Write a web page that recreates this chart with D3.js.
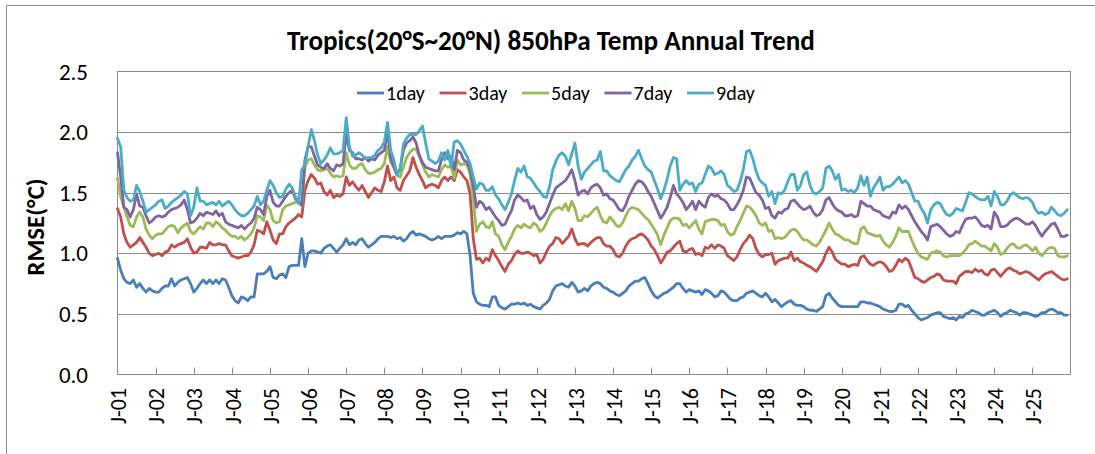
<!DOCTYPE html>
<html><head><meta charset="utf-8">
<script src="https://cdn.jsdelivr.net/npm/d3@7"></script>
<style>
html,body{margin:0;padding:0;background:#fff;}
svg{display:block;}
text{font-family:Carlito,Lato,"Open Sans",sans-serif;fill:#000;}
</style></head>
<body><svg id="c" width="1095" height="454"></svg>
<script>
const titleText = "Tropics(20°S~20°N) 850hPa Temp Annual Trend";
const yTitle = "RMSE(°C)";
const seriesNames = ["1day","3day","5day","7day","9day"];
const seriesColors = ["#4A7EBB","#C0504D","#9BBB59","#8064A2","#4BACC6"];
const tickLabels = ["J-01","J-02","J-03","J-04","J-05","J-06","J-07","J-08","J-09","J-10","J-11","J-12","J-13","J-14","J-15","J-16","J-17","J-18","J-19","J-20","J-21","J-22","J-23","J-24","J-25"];
const yTicks = [0,0.5,1.0,1.5,2.0,2.5];

const day1 = [
0.96,0.86,0.79,0.76,0.75,0.78,0.72,0.75,0.71,0.68,0.71,0.69,
0.68,0.68,0.71,0.73,0.73,0.79,0.73,0.76,0.78,0.79,0.80,0.75,
0.68,0.71,0.75,0.78,0.75,0.78,0.75,0.78,0.75,0.79,0.78,0.72,
0.65,0.61,0.59,0.64,0.63,0.61,0.64,0.64,0.83,0.83,0.83,0.85,
0.89,0.80,0.79,0.82,0.83,0.80,0.89,0.90,0.90,0.90,1.12,0.89,
1.00,1.02,1.02,1.01,1.00,1.04,1.06,1.07,1.04,1.01,1.04,1.07,
1.12,1.07,1.09,1.07,1.11,1.12,1.08,1.05,1.07,1.09,1.12,1.14,
1.14,1.14,1.13,1.14,1.12,1.13,1.10,1.12,1.16,1.18,1.15,1.16,
1.15,1.14,1.12,1.11,1.12,1.14,1.12,1.14,1.14,1.14,1.15,1.17,
1.16,1.18,1.16,0.98,0.67,0.60,0.58,0.57,0.57,0.56,0.64,0.64,
0.57,0.55,0.54,0.56,0.58,0.58,0.59,0.58,0.59,0.57,0.58,0.56,
0.55,0.54,0.57,0.59,0.62,0.69,0.73,0.74,0.75,0.73,0.72,0.76,
0.73,0.68,0.69,0.71,0.69,0.73,0.75,0.76,0.75,0.72,0.71,0.69,
0.68,0.66,0.65,0.67,0.69,0.73,0.75,0.77,0.77,0.79,0.80,0.75,
0.69,0.65,0.63,0.65,0.67,0.68,0.70,0.72,0.75,0.75,0.71,0.68,
0.70,0.69,0.68,0.69,0.66,0.70,0.69,0.67,0.64,0.65,0.69,0.68,
0.65,0.62,0.61,0.61,0.63,0.64,0.67,0.68,0.69,0.67,0.65,0.64,
0.67,0.64,0.60,0.62,0.59,0.56,0.58,0.60,0.61,0.58,0.57,0.57,
0.56,0.54,0.53,0.53,0.52,0.54,0.56,0.65,0.67,0.63,0.60,0.57,
0.56,0.56,0.56,0.56,0.56,0.56,0.60,0.60,0.59,0.59,0.58,0.57,
0.56,0.54,0.53,0.52,0.52,0.53,0.58,0.58,0.56,0.57,0.53,0.50,
0.47,0.45,0.46,0.47,0.49,0.50,0.51,0.51,0.48,0.47,0.46,0.47,
0.45,0.48,0.47,0.50,0.51,0.53,0.52,0.51,0.49,0.49,0.51,0.52,
0.53,0.51,0.48,0.50,0.51,0.53,0.52,0.51,0.49,0.51,0.51,0.50,
0.49,0.48,0.49,0.51,0.51,0.53,0.54,0.53,0.51,0.51,0.49,0.49];

const day3 = [
1.37,1.30,1.16,1.09,1.05,1.07,1.09,1.13,1.09,1.05,1.00,0.98,
0.99,1.00,0.98,1.01,1.02,1.07,1.05,1.07,1.08,1.09,1.12,1.05,
1.00,1.01,1.05,1.05,1.04,1.09,1.07,1.07,1.08,1.07,1.07,1.02,
0.98,0.97,0.96,0.97,0.98,0.98,1.01,1.07,1.19,1.18,1.16,1.26,
1.19,1.11,1.08,1.16,1.16,1.22,1.25,1.27,1.29,1.32,1.30,1.52,
1.60,1.65,1.62,1.57,1.58,1.51,1.48,1.52,1.46,1.48,1.47,1.49,
1.63,1.56,1.59,1.55,1.52,1.56,1.51,1.46,1.50,1.54,1.52,1.51,
1.59,1.72,1.60,1.63,1.54,1.52,1.60,1.64,1.68,1.79,1.71,1.65,
1.60,1.54,1.56,1.57,1.56,1.54,1.60,1.63,1.60,1.63,1.60,1.69,
1.67,1.63,1.60,1.49,1.12,0.95,0.96,0.92,0.96,0.94,1.03,0.98,
0.94,0.89,0.85,0.91,0.94,0.99,1.02,1.00,1.00,1.01,1.00,0.98,
0.99,0.92,0.95,1.01,1.06,1.08,1.13,1.12,1.08,1.11,1.14,1.20,
1.12,1.07,1.08,1.08,1.06,1.09,1.11,1.13,1.13,1.08,1.06,1.06,
1.03,0.98,0.97,1.00,1.06,1.10,1.12,1.13,1.15,1.16,1.14,1.11,
1.06,1.03,0.98,0.92,0.96,1.01,1.02,1.05,1.08,1.10,1.02,1.01,
1.03,1.04,0.99,1.00,0.98,1.05,1.04,1.07,1.04,1.07,1.06,1.04,
0.98,0.96,0.94,0.97,1.03,1.08,1.11,1.15,1.12,1.04,0.99,0.97,
0.99,0.99,1.00,0.91,0.94,0.95,0.96,0.96,1.01,0.94,0.96,0.93,
0.92,0.90,0.89,0.87,0.85,0.89,0.93,1.00,1.05,1.01,0.95,0.93,
0.91,0.91,0.89,0.90,0.91,0.90,0.97,0.98,0.94,0.91,0.90,0.92,
0.93,0.92,0.89,0.85,0.86,0.90,0.95,0.93,0.96,0.94,0.87,0.80,
0.79,0.77,0.76,0.78,0.80,0.81,0.83,0.82,0.78,0.77,0.77,0.77,
0.75,0.81,0.83,0.85,0.85,0.84,0.87,0.85,0.86,0.83,0.82,0.86,
0.87,0.84,0.81,0.84,0.87,0.88,0.86,0.85,0.83,0.84,0.85,0.84,
0.82,0.80,0.78,0.81,0.83,0.84,0.85,0.83,0.81,0.79,0.78,0.79];

const day5 = [
1.62,1.47,1.38,1.30,1.23,1.22,1.30,1.34,1.30,1.20,1.15,1.12,
1.15,1.16,1.16,1.19,1.22,1.23,1.22,1.17,1.21,1.23,1.25,1.18,
1.16,1.19,1.22,1.20,1.25,1.25,1.22,1.26,1.24,1.21,1.19,1.16,
1.14,1.14,1.12,1.14,1.11,1.13,1.16,1.21,1.31,1.30,1.27,1.40,
1.36,1.27,1.25,1.26,1.36,1.39,1.40,1.41,1.42,1.43,1.39,1.71,
1.77,1.78,1.73,1.69,1.68,1.69,1.70,1.66,1.63,1.64,1.63,1.64,
1.83,1.73,1.70,1.70,1.73,1.74,1.69,1.66,1.66,1.67,1.69,1.70,
1.74,1.88,1.75,1.71,1.64,1.63,1.71,1.79,1.83,1.86,1.86,1.80,
1.73,1.67,1.63,1.65,1.64,1.63,1.69,1.73,1.71,1.72,1.62,1.77,
1.73,1.74,1.73,1.65,1.44,1.18,1.24,1.26,1.22,1.21,1.26,1.16,
1.14,1.07,1.03,1.09,1.14,1.20,1.23,1.21,1.24,1.22,1.21,1.25,
1.23,1.18,1.20,1.25,1.31,1.35,1.37,1.38,1.36,1.41,1.35,1.43,
1.37,1.27,1.27,1.31,1.30,1.33,1.36,1.38,1.31,1.26,1.25,1.30,
1.27,1.23,1.22,1.25,1.31,1.36,1.38,1.37,1.36,1.33,1.30,1.28,
1.24,1.20,1.15,1.07,1.15,1.21,1.27,1.29,1.29,1.28,1.23,1.24,
1.21,1.24,1.27,1.20,1.16,1.26,1.27,1.28,1.28,1.27,1.23,1.24,
1.18,1.15,1.16,1.22,1.27,1.33,1.39,1.38,1.35,1.31,1.25,1.23,
1.25,1.18,1.19,1.12,1.13,1.12,1.13,1.16,1.19,1.20,1.18,1.14,
1.11,1.11,1.09,1.07,1.06,1.09,1.14,1.19,1.25,1.20,1.16,1.15,
1.13,1.11,1.11,1.09,1.08,1.08,1.20,1.22,1.17,1.16,1.15,1.14,
1.15,1.10,1.07,1.05,1.09,1.14,1.21,1.18,1.18,1.18,1.11,1.05,
1.00,0.97,0.96,0.95,1.00,1.01,1.02,1.01,0.98,0.97,0.98,0.98,
0.98,0.98,1.00,1.03,1.07,1.08,1.10,1.08,1.06,1.06,1.04,1.02,
1.08,1.05,0.99,1.00,1.04,1.07,1.08,1.05,1.04,1.06,1.07,1.05,
1.02,1.05,1.00,0.98,1.01,1.04,1.05,1.04,0.98,0.97,0.97,0.98];

const day7 = [
1.83,1.63,1.38,1.36,1.30,1.36,1.49,1.39,1.38,1.31,1.25,1.27,
1.30,1.31,1.30,1.31,1.34,1.36,1.37,1.38,1.40,1.44,1.36,1.25,
1.26,1.29,1.33,1.31,1.34,1.33,1.32,1.35,1.31,1.33,1.26,1.24,
1.23,1.22,1.21,1.23,1.20,1.23,1.25,1.29,1.38,1.36,1.32,1.47,
1.52,1.42,1.39,1.39,1.43,1.47,1.50,1.52,1.45,1.42,1.40,1.77,
1.88,1.88,1.80,1.73,1.71,1.70,1.74,1.70,1.68,1.73,1.72,1.74,
1.98,1.85,1.83,1.78,1.78,1.77,1.79,1.76,1.78,1.77,1.81,1.83,
1.85,2.00,1.79,1.71,1.65,1.70,1.85,1.91,1.93,1.96,1.91,1.81,
1.75,1.71,1.70,1.69,1.68,1.68,1.77,1.83,1.78,1.80,1.69,1.85,
1.83,1.77,1.75,1.69,1.56,1.38,1.43,1.41,1.36,1.38,1.34,1.30,
1.27,1.23,1.24,1.30,1.35,1.44,1.48,1.46,1.43,1.44,1.37,1.39,
1.32,1.28,1.30,1.34,1.41,1.48,1.54,1.56,1.58,1.60,1.64,1.69,
1.60,1.48,1.51,1.52,1.49,1.54,1.56,1.57,1.54,1.48,1.49,1.45,
1.44,1.40,1.36,1.35,1.40,1.47,1.52,1.57,1.60,1.59,1.56,1.51,
1.47,1.41,1.35,1.29,1.33,1.38,1.46,1.56,1.49,1.46,1.42,1.36,
1.39,1.43,1.36,1.43,1.40,1.38,1.46,1.49,1.47,1.48,1.45,1.44,
1.41,1.36,1.36,1.40,1.45,1.52,1.63,1.62,1.56,1.50,1.48,1.44,
1.37,1.38,1.31,1.29,1.34,1.33,1.36,1.37,1.43,1.44,1.41,1.38,
1.36,1.37,1.39,1.34,1.31,1.32,1.36,1.44,1.46,1.41,1.37,1.35,
1.34,1.31,1.31,1.32,1.30,1.31,1.43,1.41,1.39,1.39,1.36,1.35,
1.34,1.31,1.30,1.29,1.34,1.33,1.40,1.37,1.39,1.36,1.31,1.26,
1.22,1.18,1.15,1.11,1.22,1.23,1.24,1.22,1.19,1.16,1.14,1.15,
1.18,1.17,1.23,1.28,1.29,1.29,1.30,1.27,1.23,1.22,1.23,1.20,
1.34,1.30,1.22,1.22,1.23,1.26,1.28,1.29,1.28,1.26,1.24,1.24,
1.26,1.23,1.18,1.14,1.18,1.21,1.24,1.25,1.20,1.14,1.14,1.15];

const day9 = [
1.95,1.88,1.52,1.46,1.43,1.44,1.56,1.51,1.43,1.34,1.36,1.38,
1.40,1.43,1.44,1.37,1.39,1.42,1.44,1.46,1.48,1.51,1.49,1.31,
1.38,1.54,1.43,1.43,1.40,1.41,1.42,1.40,1.43,1.39,1.41,1.43,
1.40,1.36,1.33,1.31,1.31,1.33,1.36,1.39,1.47,1.40,1.43,1.52,
1.60,1.56,1.50,1.46,1.47,1.53,1.57,1.54,1.47,1.41,1.69,1.73,
1.88,2.02,1.93,1.81,1.74,1.77,1.81,1.87,1.82,1.82,1.83,1.85,
2.12,1.88,1.80,1.81,1.83,1.81,1.78,1.79,1.79,1.81,1.85,1.87,
1.92,2.08,1.85,1.77,1.65,1.69,1.90,1.95,1.98,1.98,1.98,2.01,
2.05,1.91,1.78,1.76,1.74,1.76,1.83,1.77,1.85,1.71,1.92,1.93,
1.90,1.85,1.80,1.74,1.63,1.53,1.58,1.57,1.52,1.52,1.55,1.48,
1.45,1.40,1.36,1.42,1.49,1.60,1.70,1.67,1.72,1.63,1.62,1.58,
1.54,1.51,1.47,1.46,1.55,1.69,1.76,1.81,1.83,1.80,1.73,1.82,
1.91,1.72,1.61,1.67,1.70,1.73,1.76,1.77,1.84,1.68,1.68,1.64,
1.62,1.60,1.59,1.64,1.69,1.72,1.77,1.80,1.85,1.78,1.72,1.69,
1.67,1.60,1.53,1.45,1.52,1.61,1.72,1.79,1.78,1.52,1.57,1.60,
1.57,1.58,1.51,1.57,1.58,1.65,1.72,1.70,1.65,1.66,1.68,1.65,
1.56,1.54,1.51,1.52,1.59,1.69,1.84,1.85,1.78,1.68,1.61,1.58,
1.56,1.47,1.51,1.41,1.50,1.49,1.52,1.59,1.65,1.65,1.52,1.56,
1.65,1.67,1.56,1.50,1.49,1.51,1.54,1.70,1.72,1.68,1.61,1.65,
1.52,1.53,1.51,1.52,1.50,1.54,1.64,1.56,1.63,1.47,1.54,1.58,
1.63,1.52,1.55,1.55,1.57,1.60,1.63,1.58,1.60,1.57,1.50,1.43,
1.43,1.37,1.33,1.25,1.36,1.40,1.42,1.41,1.36,1.32,1.31,1.33,
1.37,1.36,1.35,1.42,1.50,1.49,1.47,1.45,1.44,1.44,1.47,1.39,
1.51,1.47,1.40,1.40,1.43,1.48,1.50,1.48,1.46,1.45,1.46,1.45,
1.42,1.36,1.33,1.34,1.32,1.33,1.38,1.35,1.32,1.31,1.33,1.36];

const seriesValues = [day1, day3, day5, day7, day9];

const svg = d3.select("#c");
svg.append("rect").attr("width",1095).attr("height",454).attr("fill","#fff");
// outer chart frame (left & top edges visible)
svg.append("path").attr("d","M6.5,454 V5.5 H1095").attr("fill","none").attr("stroke","#8a8a8a").attr("stroke-width",1);

const L = 117.5, R = 1070.5, T = 71.5, B = 374.5;
const x = d3.scaleLinear().domain([0, tickLabels.length*12]).range([L, R]);
const y = d3.scaleLinear().domain([0, 2.5]).range([B, T]);

// gridlines
svg.append("g").selectAll("line").data(yTicks.filter(v=>v>0 && v<2.5)).join("line")
  .attr("x1",L).attr("x2",R).attr("y1",d=>Math.round(y(d))+0.5).attr("y2",d=>Math.round(y(d))+0.5)
  .attr("stroke","#8c8c8c").attr("stroke-width",1);

// plot frame
svg.append("rect").attr("x",L).attr("y",T).attr("width",R-L).attr("height",B-T)
  .attr("fill","none").attr("stroke","#8c8c8c").attr("stroke-width",1);

// x ticks (inside)
const tickIdx = tickLabels.map((d,i)=>i*12);
svg.append("g").selectAll("line").data(tickIdx.slice(1)).join("line")
  .attr("x1",d=>Math.round(x(d))+0.5).attr("x2",d=>Math.round(x(d))+0.5)
  .attr("y1",B).attr("y2",B-7).attr("stroke","#8c8c8c").attr("stroke-width",1);

// y tick labels
svg.append("g").selectAll("text").data(yTicks).join("text")
  .attr("x",88).attr("y",d=>y(d)).attr("dy","0.35em").attr("text-anchor","end")
  .style("font-size","23px").text(d=>d.toFixed(1));

// x tick labels
svg.append("g").selectAll("text").data(tickLabels).join("text")
  .attr("transform",(d,i)=>`translate(${x(i*12)+1},388) rotate(-90)`)
  .attr("text-anchor","end").attr("dy","0.35em")
  .style("font-size","22px").text(d=>d);

// lines
const line = d3.line().x((d,i)=>x(i)).y(d=>y(d));
svg.append("g").selectAll("path").data(seriesValues).join("path")
  .attr("d",d=>line(d)).attr("fill","none")
  .attr("stroke",(d,i)=>seriesColors[i]).attr("stroke-width",2.8)
  .attr("stroke-linejoin","round").attr("stroke-linecap","round");

// title
const title = svg.append("text").attr("x",551).attr("y",50).attr("text-anchor","middle")
  .style("font-size","24px").style("font-weight","bold").text(titleText);
const tw = title.node().getComputedTextLength();
title.style("font-size",(24*528/tw).toFixed(2)+"px");

// y axis title
svg.append("text").attr("transform","translate(35,227) rotate(-90)")
  .attr("text-anchor","middle").attr("dy","0.35em")
  .style("font-size","25px").style("font-weight","bold").text(yTitle);

// legend
const lg = svg.append("g");
seriesNames.forEach((n,i)=>{
  const x0 = 357 + i*82.5;
  lg.append("line").attr("x1",x0).attr("x2",x0+27).attr("y1",93).attr("y2",93)
    .attr("stroke",seriesColors[i]).attr("stroke-width",2.8);
  lg.append("text").attr("x",x0+29).attr("y",93).attr("dy","0.35em")
    .style("font-size","20px").text(n);
});
</script></body></html>
